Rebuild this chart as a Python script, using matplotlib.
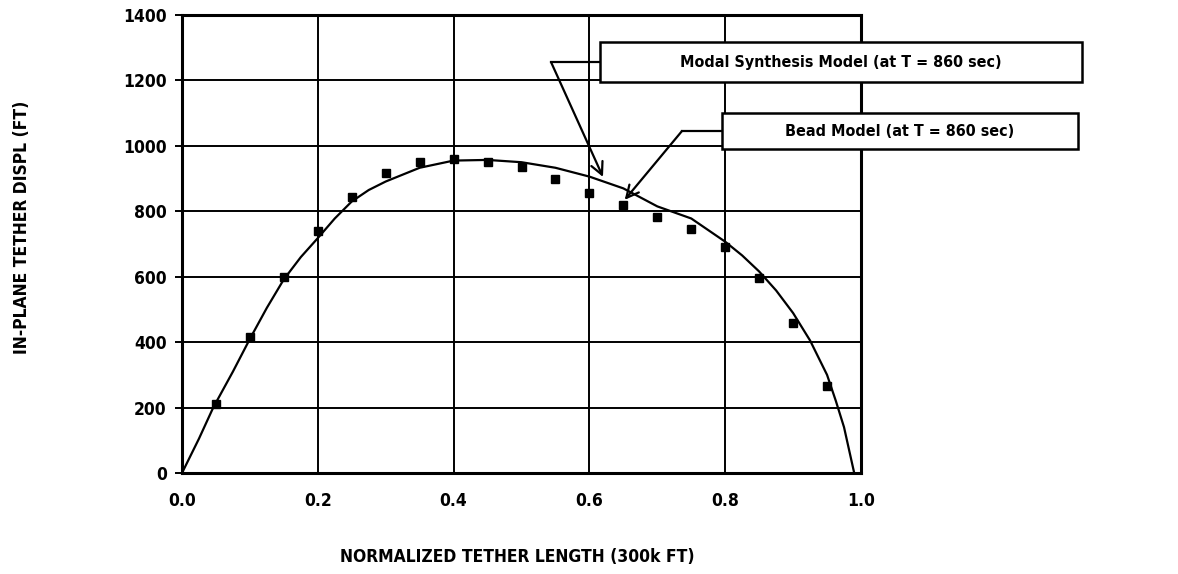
import matplotlib
matplotlib.use("Agg")
import matplotlib.pyplot as plt
from matplotlib.patches import Rectangle
from matplotlib.lines import Line2D

# bead model points (squares)
bead_x = [0.05, 0.10, 0.15, 0.20, 0.25, 0.30, 0.35, 0.40, 0.45, 0.50,
          0.55, 0.60, 0.65, 0.70, 0.75, 0.80, 0.85, 0.90, 0.95]
bead_y = [210, 415, 600, 740, 845, 917, 952, 960, 952, 935,
          899, 855, 818, 782, 746, 692, 595, 458, 266]

# modal synthesis curve
modal_x = [0.0, 0.025, 0.046, 0.075, 0.10, 0.125, 0.15, 0.175, 0.20, 0.225,
           0.25, 0.275, 0.30, 0.35, 0.40, 0.45, 0.50, 0.55, 0.60, 0.65,
           0.70, 0.75, 0.80, 0.825, 0.85, 0.875, 0.90, 0.925, 0.95,
           0.963, 0.975, 0.99]
modal_y = [0, 105, 200, 310, 410, 505, 592, 660, 718, 778,
           830, 865, 891, 933, 955, 957, 950, 933, 906, 870,
           815, 778, 707, 665, 616, 558, 489, 405, 300,
           220, 140, 0]

x_ticks = [0.0, 0.2, 0.4, 0.6, 0.8, 1.0]
x_ticklabels = ["0.0", "0.2", "0.4", "0.6", "0.8", "1.0"]
y_ticks = [0, 200, 400, 600, 800, 1000, 1200, 1400]

W, H = 1178, 574


def fx(px):
    return px / W


def fy(py):
    return 1 - py / H


fig = plt.figure(figsize=(W / 100, H / 100), dpi=100)
ax = fig.add_axes([fx(182), fy(473), fx(861) - fx(182), fy(15) - fy(473)])

ax.plot(modal_x, modal_y, color="black", lw=1.6, zorder=3)
ax.plot(bead_x, bead_y, linestyle="none", marker="s", ms=5.5,
        color="black", zorder=4)

ax.set_xlim(0, 1.0)
ax.set_ylim(0, 1400)
ax.set_xticks(x_ticks)
ax.set_xticklabels(x_ticklabels)
ax.set_yticks(y_ticks)
ax.grid(True, color="black", lw=1.4)
ax.set_axisbelow(True)
for s in ax.spines.values():
    s.set_linewidth(2.2)
ax.tick_params(axis="x", length=0, pad=14)
ax.tick_params(axis="y", length=5, width=1.4, pad=6)
for lab in ax.get_xticklabels() + ax.get_yticklabels():
    lab.set_fontweight("bold")
    lab.set_fontsize(12.5)
    lab.set_fontstretch("condensed")

fig.text(fx(22), fy(227), "IN-PLANE TETHER DISPL (FT)", rotation=90,
         ha="center", va="center", fontsize=12.5, fontweight="bold",
         fontstretch="condensed")
fig.text(fx(517), fy(557), "NORMALIZED TETHER LENGTH (300k FT)",
         ha="center", va="center", fontsize=12.5, fontweight="bold",
         fontstretch="condensed")

# annotation boxes with leader lines
boxes = [
    # text, box left, right, top, bottom (px), knee (px), tip (data)
    ("Modal Synthesis Model (at T = 860 sec)", 600, 1082, 42, 82, (551, 62), (0.62, 905)),
    ("Bead Model (at T = 860 sec)", 722, 1078, 113, 149, (682, 131), (0.652, 835)),
]
for txt, l, r, t, b, knee, tip in boxes:
    fig.patches.append(Rectangle((fx(l), fy(b)), fx(r) - fx(l), fy(t) - fy(b),
                                 transform=fig.transFigure, fill=True,
                                 facecolor="white", edgecolor="black", lw=1.8,
                                 zorder=5))
    fig.text(fx((l + r) / 2), fy((t + b) / 2), txt, ha="center", va="center",
             fontsize=11.5, fontweight="bold", fontstretch="condensed", zorder=6)
    cy = (t + b) / 2
    fig.lines.append(Line2D([fx(knee[0]), fx(l)], [fy(cy), fy(cy)],
                            transform=fig.transFigure, color="black", lw=1.6))
    ax.annotate("", xy=tip, xycoords="data",
                xytext=(fx(knee[0]), fy(cy)), textcoords="figure fraction",
                arrowprops=dict(arrowstyle="->", lw=1.6, color="black",
                                shrinkA=0, shrinkB=0, mutation_scale=22),
                annotation_clip=False, zorder=6)

fig.savefig("out.png", dpi=100)
